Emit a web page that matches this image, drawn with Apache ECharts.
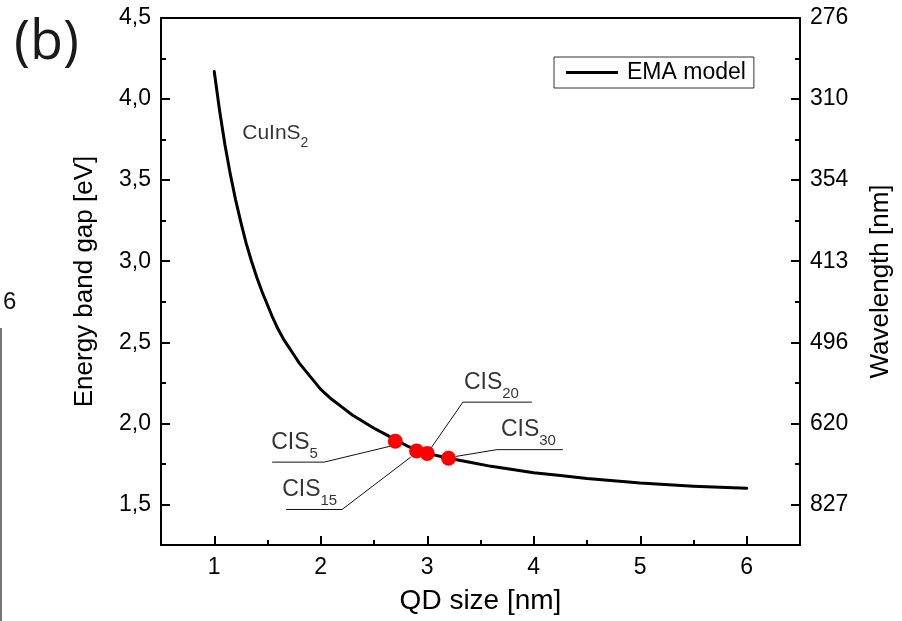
<!DOCTYPE html>
<html><head><meta charset="utf-8">
<script src="https://cdn.jsdelivr.net/npm/echarts@6/dist/echarts.min.js"></script>
<style>html,body{margin:0;padding:0;background:#fff}#c{width:902px;height:621px}</style>
</head><body><div id="c"></div>
<script>
// ---- data ----
const qdSize = [1.0,1.05,1.1,1.15,1.2,1.25,1.3,1.35,1.4,1.45,1.5,1.55,1.6,1.65,1.7,1.75,1.8,1.85,1.9,1.95,2.0,2.1,2.2,2.3,2.4,2.5,2.6,2.7,2.8,2.9,3.0,3.2,3.4,3.6,3.8,4.0,4.25,4.5,5.0,5.5,6.0];
const emaEnergy = [4.17,3.93,3.72,3.54,3.38,3.24,3.11,3.00,2.90,2.81,2.73,2.65,2.58,2.52,2.47,2.42,2.37,2.33,2.29,2.25,2.21,2.15,2.10,2.05,2.01,1.97,1.935,1.90,1.865,1.835,1.815,1.785,1.76,1.735,1.715,1.695,1.678,1.66,1.632,1.613,1.60];
const cisSubs = ['5','15','20','30'];
const cisSize = [2.7,2.9,3.0,3.2];
const cisEnergy = [1.89,1.83,1.815,1.785];
const energyTicks = [1.5,2.0,2.5,3.0,3.5,4.0,4.5];
const energyTickLabels = ['1,5','2,0','2,5','3,0','3,5','4,0','4,5'];
const wavelengthTickLabels = ['827','620','496','413','354','310','276'];
const sizeTicks = [1,2,3,4,5,6];
const sizeTickLabels = ['1','2','3','4','5','6'];

// annotation leader lines (data coordinates): underline end, underline corner, point end
const leaderLines = [
  [[1.544,1.761],[2.031,1.761],[2.657,1.860]],
  [[1.675,1.469],[2.200,1.469],[2.845,1.792]],
  [[3.982,2.131],[3.335,2.131],[3.031,1.844]],
  [[4.273,1.838],[3.654,1.838],[3.267,1.796]]
];
const labelAnchors = [[1.544,1.761],[1.675,1.469],[3.335,2.131],[3.654,1.838]];
const labelShift = [[-1,0],[-4,0],[1,0],[4,0]];
const materialAnchor = [1.263,3.685];

const FONT = 'Liberation Sans, Arial, sans-serif';
function findIdx(arr, v){ for (let i=0;i<arr.length;i++){ if (Math.abs(arr[i]-v)<1e-6) return i; } return -1; }

const chart = echarts.init(document.getElementById('c'), null, {renderer:'canvas'});

const axisLineStyle = {color:'#000', width:2};
const richSub = {
  m:{fontSize:23, lineHeight:30, verticalAlign:'top', color:'#000', fontFamily:FONT},
  s:{fontSize:15, lineHeight:30, verticalAlign:'bottom', color:'#000', fontFamily:FONT}
};

const series = [
  {
    name:'EMA model', type:'line', xAxisIndex:0, yAxisIndex:0,
    data: qdSize.map((x,i)=>[x, emaEnergy[i]]),
    smooth:false, symbol:'none', showSymbol:false,
    lineStyle:{color:'#000', width:3, join:'round', cap:'round'}, itemStyle:{color:'#000'}, z:3
  },
  {
    name:'CIS', type:'scatter', xAxisIndex:0, yAxisIndex:0,
    data: cisSize.map((x,i)=>[x, cisEnergy[i]]),
    symbolSize:15, itemStyle:{color:'#ff0000', opacity:1}, z:5
  }
];
leaderLines.forEach((pts)=>{
  series.push({
    type:'line', xAxisIndex:0, yAxisIndex:0, data:pts, symbol:'none', silent:true,
    lineStyle:{color:'#111', width:1}, z:2
  });
});
series.push({
  type:'scatter', xAxisIndex:0, yAxisIndex:0, symbolSize:0, silent:true,
  itemStyle:{color:'#000'},
  data: labelAnchors.map((p,i)=>({
    value:p,
    label:{show:true, color:'#000', position:'top', align:'left', distance:1, offset:labelShift[i],
      formatter:'{m|CIS}{s|'+cisSubs[i]+'}', rich:richSub}
  })).concat([{
    value:materialAnchor,
    label:{show:true, color:'#000', position:'top', align:'left', distance:0,
      formatter:'{m|CuInS}{s|2}',
      rich:{m:{fontSize:21, lineHeight:27, verticalAlign:'top', color:'#000', fontFamily:FONT},
            s:{fontSize:14, lineHeight:27, verticalAlign:'bottom', color:'#000', fontFamily:FONT}}}
  }])
});

const option = {
  animation:false,
  backgroundColor:'#fff',
  textStyle:{fontFamily:FONT},
  grid:{left:161, right:101, top:18, bottom:76, containLabel:false},
  legend:{
    data:[{name:'EMA model', icon:'rect'}], left:554, top:57, itemWidth:52, itemHeight:3, itemGap:0,
    padding:[4,8,4,12], borderColor:'#333', borderWidth:1,
    itemStyle:{color:'#000'},
    textStyle:{fontSize:23, color:'#000', fontFamily:FONT, padding:[0,0,0,4]}
  },
  xAxis:[
    {type:'value', min:0.5, max:6.5, minInterval:1, maxInterval:1, position:'bottom',
     axisLine:{show:true, onZero:false, lineStyle:axisLineStyle},
     axisTick:{show:true, inside:true, length:9, lineStyle:{color:'#000', width:2}},
     axisLabel:{fontSize:23, color:'#000', margin:11, fontFamily:FONT,
       formatter:v=>{const i=findIdx(sizeTicks,v); return i<0?'':sizeTickLabels[i];}},
     splitLine:{show:false},
     name:'QD size [nm]', nameLocation:'middle', nameGap:42,
     nameTextStyle:{fontSize:28, color:'#000', fontFamily:FONT}},
    {type:'value', min:0.5, max:6.5, interval:0.5, position:'bottom',
     axisLine:{show:false, onZero:false},
     axisTick:{show:true, inside:true, length:5, lineStyle:{color:'#000', width:2}},
     axisLabel:{show:false}, splitLine:{show:false}},
    {type:'value', min:0.5, max:6.5, position:'top',
     axisLine:{show:true, onZero:false, lineStyle:axisLineStyle},
     axisTick:{show:false}, axisLabel:{show:false}, splitLine:{show:false}}
  ],
  yAxis:[
    {type:'value', min:1.25, max:4.5, minInterval:0.5, maxInterval:0.5, position:'left',
     axisLine:{show:true, onZero:false, lineStyle:axisLineStyle},
     axisTick:{show:true, inside:true, length:9, lineStyle:{color:'#000', width:2}},
     axisLabel:{fontSize:23, color:'#000', margin:10, fontFamily:FONT,
       formatter:v=>{const i=findIdx(energyTicks,v); return i<0?'':energyTickLabels[i];}},
     splitLine:{show:false},
     name:'Energy band gap [eV]', nameLocation:'middle', nameGap:63, nameRotate:90,
     nameTextStyle:{fontSize:26, color:'#000', fontFamily:FONT}},
    {type:'value', min:1.25, max:4.5, interval:0.25, position:'left',
     axisLine:{show:false, onZero:false},
     axisTick:{show:true, inside:true, length:5, lineStyle:{color:'#000', width:2}},
     axisLabel:{show:false}, splitLine:{show:false}},
    {type:'value', min:1.25, max:4.5, minInterval:0.5, maxInterval:0.5, position:'right',
     axisLine:{show:true, onZero:false, lineStyle:axisLineStyle},
     axisTick:{show:true, inside:true, length:9, lineStyle:{color:'#000', width:2}},
     axisLabel:{fontSize:23, color:'#000', margin:10, fontFamily:FONT,
       formatter:v=>{const i=findIdx(energyTicks,v); return i<0?'':wavelengthTickLabels[i];}},
     splitLine:{show:false},
     name:'Wavelength [nm]', nameLocation:'middle', nameGap:68, nameRotate:90,
     nameTextStyle:{fontSize:26, color:'#000', fontFamily:FONT}},
    {type:'value', min:1.25, max:4.5, interval:0.25, position:'right',
     axisLine:{show:false, onZero:false},
     axisTick:{show:true, inside:true, length:5, lineStyle:{color:'#000', width:2}},
     axisLabel:{show:false}, splitLine:{show:false}}
  ],
  graphic:[
    {type:'text', left:14, top:17, style:{text:'(b)', fontSize:54, fill:'#1a1a1a', fontFamily:'Open Sans, Liberation Sans, sans-serif'}},
    {type:'text', left:3, top:290, style:{text:'6', fontSize:24, fill:'#111', fontFamily:FONT}},
    {type:'line', shape:{x1:1, y1:328, x2:1, y2:621}, style:{stroke:'#777', lineWidth:2}}
  ],
  series: series
};
chart.setOption(option);
</script>
</body></html>
